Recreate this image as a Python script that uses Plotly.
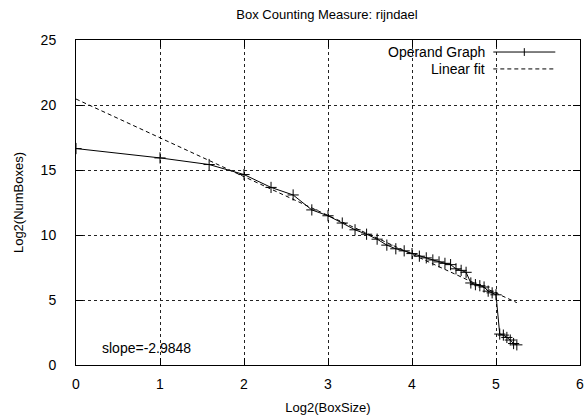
import numpy as np
import plotly.graph_objects as go

# Box sizes 1..38 -> log2
box_sizes = list(range(1, 39))
log2_num_boxes = [16.65, 15.93, 15.42, 14.65, 13.66, 13.08, 11.93, 11.48, 10.92, 10.40,
                  10.06, 9.68, 9.22, 8.94, 8.78, 8.57, 8.37, 8.24, 8.08, 7.93,
                  7.82, 7.72, 7.40, 7.28, 7.13, 6.31, 6.18, 6.10, 6.00, 5.68,
                  5.55, 5.40, 2.38, 2.30, 2.12, 1.92, 1.65, 1.55]
fit_slope = -2.9848
fit_intercept = 20.46
x_ticks = [0, 1, 2, 3, 4, 5, 6]
y_ticks = [0, 5, 10, 15, 20, 25]

log2_box = np.log2(np.array(box_sizes, dtype=float))
fit_x = np.array([log2_box.min(), log2_box.max()])
fit_y = fit_intercept + fit_slope * fit_x

FONT = "Liberation Sans, Arial, sans-serif"

fig = go.Figure()
fig.add_trace(go.Scatter(
    x=log2_box, y=log2_num_boxes, mode="lines+markers", name="Operand Graph",
    line=dict(color="black", width=1),
    marker=dict(symbol="cross-thin-open", size=8, line=dict(color="black", width=1)),
))
fig.add_trace(go.Scatter(
    x=fit_x, y=fit_y, mode="lines", name="Linear fit",
    line=dict(color="black", width=1, dash="4px,3px"),
))

axis_common = dict(
    showline=True, linecolor="black", linewidth=1, mirror="allticks",
    ticks="inside", ticklen=7, tickcolor="black", tickwidth=1,
    showgrid=True, gridcolor="#222222", griddash="dot", gridwidth=1,
    zeroline=False, tickfont=dict(family=FONT, size=14, color="black"),
    ticklabeloverflow="allow", automargin=False,
)

fig.update_xaxes(range=[0, 6], tickvals=x_ticks, ticktext=[str(v) for v in x_ticks],
                 title=dict(text="Log2(BoxSize)", font=dict(family=FONT, size=13, color="black"), standoff=12),
                 ticklabelstandoff=6, **axis_common)
fig.update_yaxes(range=[0, 25], tickvals=y_ticks, ticktext=[str(v) for v in y_ticks],
                 title=dict(text="Log2(NumBoxes)", font=dict(family=FONT, size=13, color="black"), standoff=14),
                 ticklabelstandoff=16, **axis_common)

# legend background cover (hides grid behind the key, like gnuplot)
fig.add_shape(type="rect", xref="paper", yref="paper", x0=0.60, x1=0.99, y0=0.90, y1=0.978,
              fillcolor="white", line=dict(width=0), layer="between")

# manual gnuplot-style key: text right-aligned, sample to the right
key_text_x = 0.816
key_s0, key_s1 = 0.828, 0.951
key_rows = [("Operand Graph", 0.963, "solid"), ("Linear fit", 0.911, "4px,3px")]
for label, yy, dash in key_rows:
    fig.add_annotation(x=key_text_x, y=yy, xref="paper", yref="paper", text=label,
                       showarrow=False, xanchor="right", yanchor="middle",
                       font=dict(family=FONT, size=14, color="black"))
    fig.add_shape(type="line", xref="paper", yref="paper", x0=key_s0, x1=key_s1, y0=yy, y1=yy,
                  line=dict(color="black", width=1, dash=dash))
# cross marker in the key sample
mid = (key_s0 + key_s1) / 2
fig.add_shape(type="line", xref="paper", yref="paper", x0=mid, x1=mid,
              y0=key_rows[0][1] - 0.012, y1=key_rows[0][1] + 0.012,
              line=dict(color="black", width=1))

fig.add_annotation(x=0.28, y=1.3, xref="x", yref="y", text=f"slope={fit_slope}",
                   showarrow=False, xanchor="left", yanchor="middle",
                   font=dict(family=FONT, size=14, color="black"))

fig.update_layout(
    width=584, height=419,
    margin=dict(l=76, r=4, t=40, b=54),
    paper_bgcolor="white", plot_bgcolor="white",
    showlegend=False,
    title=dict(text="Box Counting Measure: rijndael", x=0.56, xanchor="center", y=0.965,
               yanchor="middle", font=dict(family=FONT, size=13, color="black")),
)

fig.write_html("out.html")
